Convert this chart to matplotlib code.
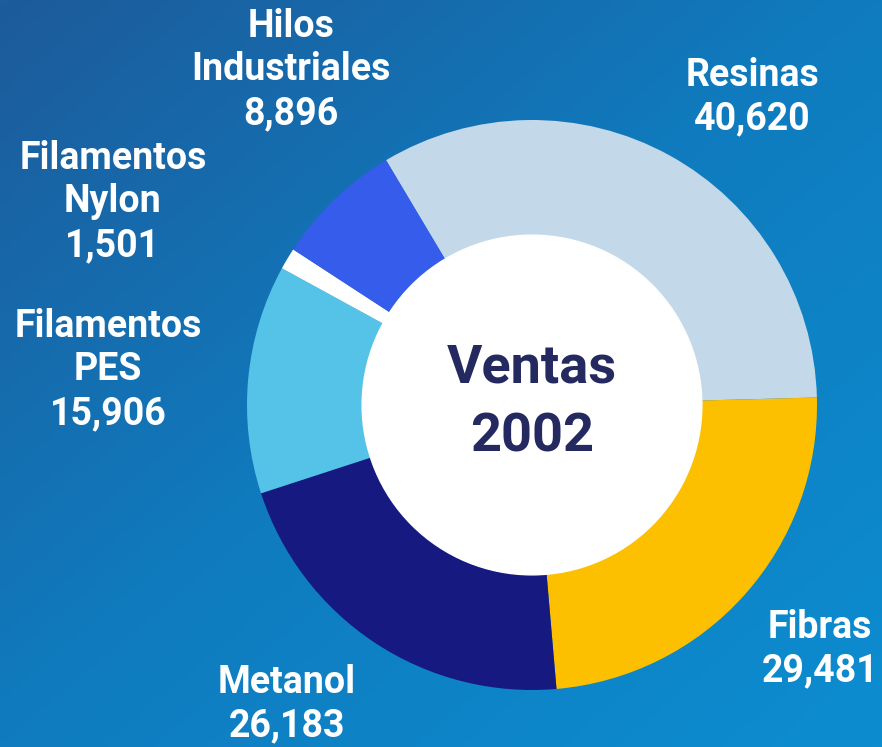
import numpy as np
import matplotlib.pyplot as plt
from matplotlib.colors import LinearSegmentedColormap

plt.rcParams['font.family'] = ['Roboto', 'DejaVu Sans']

labels = ["Resinas", "Fibras", "Metanol", "Filamentos\nPES", "Filamentos\nNylon", "Hilos\nIndustriales"]
values = [40620, 29481, 26183, 15906, 1501, 8896]
colors = ["#c3d8e8", "#fdc000", "#161a80", "#55c3e8", "#ffffff", "#365ceb"]

# label anchor points (pixels from top-left)
label_pos = [(752, 97), (820, 649), (287, 704), (108, 370), (113, 202), (291, 70)]

W, H = 882, 747
fig = plt.figure(figsize=(W / 100, H / 100), dpi=100)
ax = fig.add_axes([0, 0, 1, 1])

# background gradient, dark top-left to lighter bottom-right
yy, xx = np.mgrid[0:1:200j, 0:1:200j]
grad = xx * 0.5 + yy * 0.5
cmap = LinearSegmentedColormap.from_list("bg", ["#1d5b9b", "#0f7cbf", "#0c8dd0"])
ax.imshow(grad, extent=[0, W, 0, H], origin='upper', cmap=cmap, aspect='auto', zorder=0)

cx, cy, r = 532, H - 405, 285
ax.pie(values, colors=colors, startangle=120.8, counterclock=False,
       center=(cx, cy), radius=r, frame=True,
       wedgeprops=dict(width=r * 0.404, linewidth=0))
ax.set_xlim(0, W)
ax.set_ylim(0, H)
ax.set_aspect('equal')
ax.axis('off')

inner = plt.Circle((cx, cy), r * 0.596, color='white', zorder=3)
ax.add_patch(inner)

for lab, v, (x, y) in zip(labels, values, label_pos):
    ax.text(x, H - y, f"{lab}\n{v:,}", ha='center', va='center', color='white',
            fontsize=27, fontweight='bold', linespacing=1.22, zorder=5)

ax.text(cx, H - 368, "Ventas", ha='center', va='center', color='#242a60',
        fontsize=39, fontweight='bold', zorder=5)
ax.text(cx, H - 437, "2002", ha='center', va='center', color='#242a60',
        fontsize=39, fontweight='bold', zorder=5)

fig.savefig("out.png", dpi=100)
